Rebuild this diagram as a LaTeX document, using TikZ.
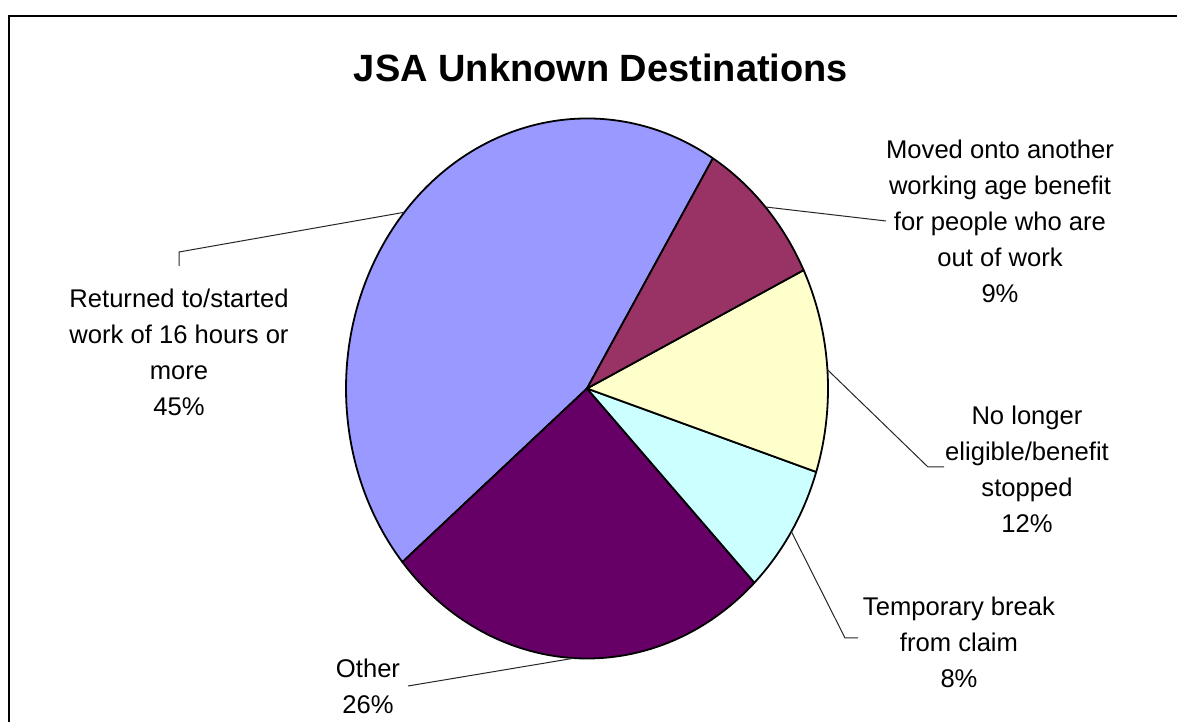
\documentclass[tikz,border=0pt]{standalone}
\usepackage{fontspec}
\setmainfont{Liberation Sans}
\definecolor{lavender}{HTML}{9999FF}
\definecolor{plum}{HTML}{993366}
\definecolor{cream}{HTML}{FFFFCC}
\definecolor{icecyan}{HTML}{CCFFFF}
\definecolor{aubergine}{HTML}{660066}

\begin{document}
\begin{tikzpicture}[x=0.5pt,y=0.5pt,
  slice/.style={draw=black,line width=0.9pt,line join=round},
  leader/.style={draw=black!85,line width=0.5pt},
  lbl/.style={align=center,inner sep=0pt,font=\fontsize{12.8}{18}\selectfont}]
\useasboundingbox (0,0) rectangle (1177,722);
\clip (0,0) rectangle (1177,722);
\draw[line width=1pt] (9,-20) rectangle (1200,706);

\node[font=\bfseries\fontsize{19}{23}\selectfont] (title) at (601,654) {JSA Unknown Destinations};

% pie, angles measured from the right
\begin{scope}[shift={(587,333.5)},xscale=241,yscale=270]
\path[slice,fill=lavender] (0,0) -- (58.5:1) arc[start angle=58.5,end angle=220,radius=1] -- cycle;
\path[slice,fill=aubergine] (0,0) -- (220:1) arc[start angle=220,end angle=314,radius=1] -- cycle;
\path[slice,fill=icecyan] (0,0) -- (314:1) arc[start angle=314,end angle=342,radius=1] -- cycle;
\path[slice,fill=cream] (0,0) -- (342:1) arc[start angle=342,end angle=386,radius=1] -- cycle;
\path[slice,fill=plum] (0,0) -- (26:1) arc[start angle=26,end angle=58.5,radius=1] -- cycle;
\coordinate (m1) at (139.25:1);
\coordinate (m2) at (42.25:1);
\coordinate (m3) at (4:1);
\coordinate (m4) at (328:1);
\coordinate (m5) at (267:1);
\end{scope}

\node[lbl] (work) at (179,370) {Returned to/started\\work of 16 hours or\\more\\45\%};
\node[lbl] (moved) at (1000,501) {Moved onto another\\working age benefit\\for people who are\\out of work\\9\%};
\node[lbl] (elig) at (1027,253) {No longer\\eligible/benefit\\stopped\\12\%};
\node[lbl] (temp) at (959,80) {Temporary break\\from claim\\8\%};
\node[lbl] (other) at (368,36) {Other\\26\%};

\coordinate (k1) at (179,470);
\coordinate (k1b) at (179,456);
\coordinate (k2) at (886,501);
\coordinate (k3) at (928,255);
\coordinate (k3b) at (944,255);
\coordinate (k4) at (845,84);
\coordinate (k4b) at (858,84);
\coordinate (k5) at (408,36);

\draw[leader] (m1) -- (k1) -- (k1b);
\draw[leader] (m2) -- (k2);
\draw[leader] (m3) -- (k3) -- (k3b);
\draw[leader] (m4) -- (k4) -- (k4b);
\draw[leader] (m5) -- (k5);
\end{tikzpicture}
\end{document}
